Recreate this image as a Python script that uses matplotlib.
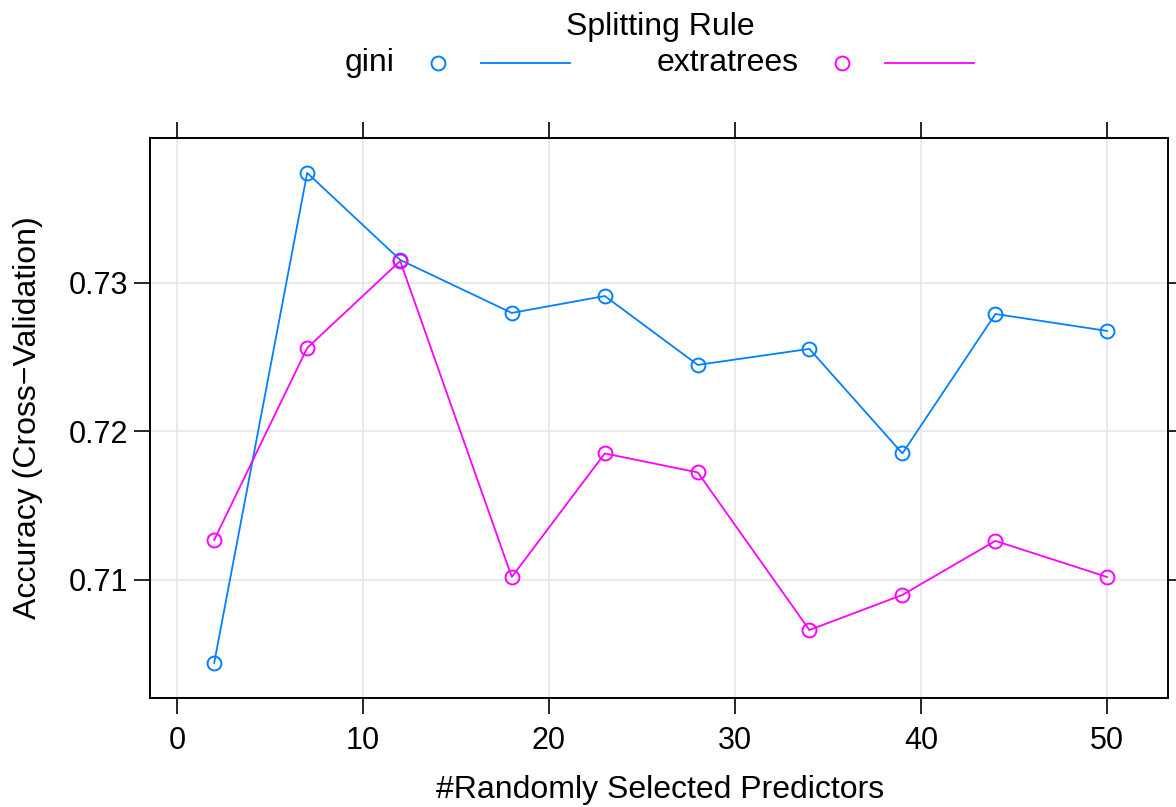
import matplotlib
matplotlib.use("Agg")
import matplotlib.pyplot as plt
from matplotlib.lines import Line2D

plt.rcParams['font.family'] = ['Liberation Sans', 'DejaVu Sans']

mtry = [2, 7, 12, 18, 23, 28, 34, 39, 44, 50]
gini = [0.70441, 0.73741, 0.73155, 0.72798, 0.72912, 0.72448, 0.72556, 0.71852, 0.72791, 0.72677]
extratrees = [0.71269, 0.72562, 0.73148, 0.71020, 0.71852, 0.71724, 0.70663, 0.70899, 0.71263, 0.71020]
series_names = ["gini", "extratrees"]
colors = ["#0080ff", "#ff00ff"]
xticks = [0, 10, 20, 30, 40, 50]
yticks = [0.71, 0.72, 0.73]

W, H = 1176, 807
fig = plt.figure(figsize=(W / 100, H / 100), dpi=100)
ax = fig.add_axes([150 / W, 1 - 698 / H, (1168 - 150) / W, (698 - 138) / H])

for v in xticks:
    ax.axvline(v, color="#e6e6e6", lw=1.2, zorder=0)
for v in yticks:
    ax.axhline(v, color="#e6e6e6", lw=1.2, zorder=0)

for vals, c in zip([gini, extratrees], colors):
    ax.plot(mtry, vals, color=c, lw=1.3, marker="o", markersize=10,
            markerfacecolor="none", markeredgecolor=c, markeredgewidth=1.4, zorder=3)

ax.set_xlim(-1.45, 53.28)
ax.set_ylim(0.70205, 0.73976)
ax.set_xticks(xticks)
ax.set_yticks(yticks)
ax.set_yticklabels([f"{v:.2f}" for v in yticks])
ax.tick_params(axis="both", which="both", direction="out", length=11.5, width=1.2,
               labelsize=22, top=True, right=True, labeltop=False, labelright=False)
ax.tick_params(axis="x", pad=9)
ax.tick_params(axis="y", pad=4)
for s in ax.spines.values():
    s.set_linewidth(1.4)

fs = 23
fig.text(28 / W, 1 - 418 / H, "Accuracy (Cross\u2212Validation)", rotation=90,
         ha="center", va="center", fontsize=fs)
fig.text(660 / W, 1 - 790 / H, "#Randomly Selected Predictors", ha="center",
         va="center", fontsize=fs)

# legend
fig.text(660 / W, 1 - 27 / H, "Splitting Rule", ha="center", va="center", fontsize=fs)
leg_y = 1 - 63 / H
text_right = [395, 799]
circ_x = [438, 842]
line_x = [(481, 570), (885, 974)]
for name, c, tr, cx, (l0, l1) in zip(series_names, colors, text_right, circ_x, line_x):
    fig.text(tr / W, leg_y, name, ha="right", va="center", fontsize=fs)
    fig.add_artist(Line2D([cx / W], [leg_y], marker="o", markersize=10,
                          markerfacecolor="none", markeredgecolor=c,
                          markeredgewidth=1.4, transform=fig.transFigure))
    fig.add_artist(Line2D([l0 / W, l1 / W], [leg_y, leg_y], color=c, lw=1.3,
                          transform=fig.transFigure))

fig.savefig("out.png", dpi=100)
